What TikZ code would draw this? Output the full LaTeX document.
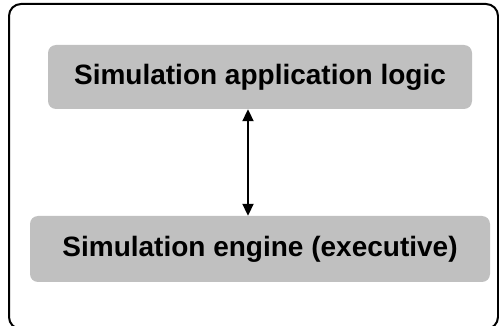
\documentclass[tikz,border=0pt]{standalone}
\usepackage{fontspec}
\setmainfont{Liberation Sans}
\usetikzlibrary{arrows.meta}
\definecolor{boxgray}{RGB}{192,192,192}
\tikzset{
  layerbox/.style={fill=boxgray, draw=none, rounded corners=8pt},
  layertext/.style={font=\fontsize{28}{32}\selectfont\bfseries, text=black},
  link/.style={line width=2pt, {Triangle[length=12pt,width=11pt]}-{Triangle[length=12pt,width=11pt]}}
}
\begin{document}
\begin{tikzpicture}[x=1pt,y=-1pt]
\useasboundingbox (0,0) rectangle (499,326);
\begin{scope}
\clip (0,0) rectangle (499,326);
\draw[line width=2pt, rounded corners=12pt] (9,4) rectangle (498,329);
\end{scope}
\node[layerbox, minimum width=424pt, minimum height=64pt, inner sep=0pt] (app) at (260,77) {};
\node[layertext] at (app.center) {Simulation application logic};
\node[layerbox, minimum width=460pt, minimum height=66pt, inner sep=0pt] (eng) at (260,249) {};
\node[layertext] at (eng.center) {Simulation engine (executive)};
\draw[link] ([xshift=-12pt]app.south) -- ([xshift=-12pt]eng.north);
\end{tikzpicture}
\end{document}
